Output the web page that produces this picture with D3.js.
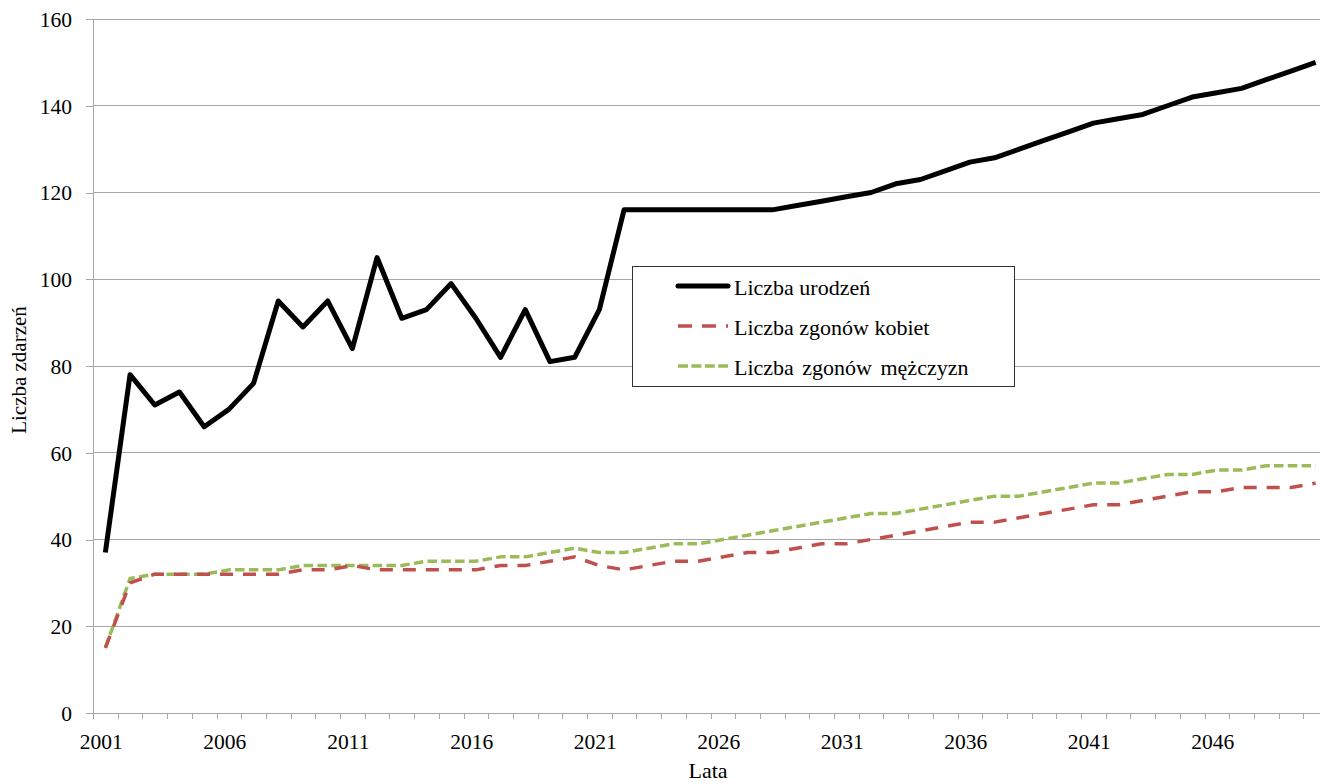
<!DOCTYPE html>
<html>
<head>
<meta charset="utf-8">
<script src="https://cdn.jsdelivr.net/npm/d3@7"></script>
<style>
  html, body { margin: 0; padding: 0; background: #fff; }
  svg { display: block; font-family: "Liberation Serif", "Times New Roman", serif; }
</style>
</head>
<body>
<svg id="chart" width="1320" height="784"></svg>
<script>
const years = d3.range(2001, 2051);
const births = [37,78,71,74,66,70,76,95,89,95,
                84,105,91,93,99,91,82,93,81,82,
                93,116,116,116,116,116,116,116,117,118,
                119,120,122,123,125,127,128,130,132,134,
                136,137,138,140,142,143,144,146,148,150];
const deathsWomen = [15,30,32,32,32,32,32,32,33,33,
                     34,33,33,33,33,33,34,34,35,36,
                     34,33,34,35,35,36,37,37,38,39,
                     39,40,41,42,43,44,44,45,46,47,
                     48,48,49,50,51,51,52,52,52,53];
const deathsMen = [15,31,32,32,32,33,33,33,34,34,
                   34,34,34,35,35,35,36,36,37,38,
                   37,37,38,39,39,40,41,42,43,44,
                   45,46,46,47,48,49,50,50,51,52,
                   53,53,54,55,55,56,56,57,57,57];
const yTicks = [0,20,40,60,80,100,120,140,160];
const xLabelYears = [2001,2006,2011,2016,2021,2026,2031,2036,2041,2046];
const seriesNames = ["Liczba urodzeń", "Liczba zgonów kobiet", "Liczba zgonów mężczyzn"];

(function () {
const svg = d3.select("#chart");
const mLeft = 93, mTop = 19, mBottom = 713;
const step = 24.7;
const mRight = mLeft + step * years.length;

const x = d3.scaleBand().domain(years).range([mLeft, mRight]);
const xb = d3.scaleLinear().domain([0, years.length]).range([mLeft, mRight]);
const y = d3.scaleLinear().domain([0, 160]).range([mBottom, mTop]);

const gridColor = "#a6a6a6";
const tickFont = 21.5;
const fontSize = 22;
const ff = "'Liberation Serif', 'Times New Roman', serif";

// gridlines
svg.append("g").selectAll("line").data(yTicks.filter(d => d > 0)).join("line")
  .attr("x1", mLeft).attr("x2", mRight)
  .attr("y1", d => y(d)).attr("y2", d => y(d))
  .attr("stroke", gridColor).attr("stroke-width", 1).attr("shape-rendering", "crispEdges");

// y axis
const yAxis = svg.append("g").attr("transform", `translate(${mLeft},0)`)
  .call(d3.axisLeft(y).tickValues(yTicks).tickSize(7).tickPadding(14));
yAxis.attr("font-family", ff);
yAxis.select(".domain").attr("stroke", gridColor).attr("shape-rendering", "crispEdges");
yAxis.selectAll(".tick line").attr("stroke", gridColor).attr("shape-rendering", "crispEdges");
yAxis.selectAll("text").attr("font-size", tickFont).attr("font-family", ff).attr("fill", "#000").attr("dy", "0.34em");

// x axis: boundary ticks
const xTickAxis = svg.append("g").attr("transform", `translate(0,${mBottom})`)
  .call(d3.axisBottom(xb).tickValues(d3.range(0, years.length + 1)).tickSize(6).tickFormat(""));
xTickAxis.select(".domain").attr("stroke", gridColor).attr("shape-rendering", "crispEdges");
xTickAxis.selectAll(".tick line").attr("stroke", gridColor).attr("shape-rendering", "crispEdges");

// x axis labels
const xLabelAxis = svg.append("g").attr("transform", `translate(-4,${mBottom})`)
  .call(d3.axisBottom(x).tickValues(xLabelYears).tickSize(0).tickFormat(d => String(d)));
xLabelAxis.attr("font-family", ff);
xLabelAxis.select(".domain").remove();
xLabelAxis.selectAll("text").attr("font-size", tickFont).attr("font-family", ff).attr("fill", "#000")
  .attr("y", 36).attr("dy", 0);

// axis titles
svg.append("text").attr("x", 708).attr("y", 778).attr("text-anchor", "middle")
  .attr("font-size", fontSize).attr("font-family", ff).text("Lata");
svg.append("text").attr("transform", "translate(26,370) rotate(-90)").attr("text-anchor", "middle")
  .attr("font-size", 21).attr("font-family", ff).text("Liczba zdarzeń");

// lines
const line = d3.line().x((d, i) => x(years[i]) + x.bandwidth() / 2).y(d => y(d));
const styles = [
  { data: births, color: "#000000", width: 5, dash: null, legDash: null },
  { data: deathsWomen, color: "#c0504d", width: 3.5, dash: "13 10", legDash: "14 10" },
  { data: deathsMen, color: "#9bbb59", width: 3.5, dash: "9.5 4.3", legDash: "10 3.4" }
];
[styles[2], styles[1], styles[0]].forEach(s => {
  svg.append("path").datum(s.data)
    .attr("d", line)
    .attr("fill", "none")
    .attr("stroke", s.color)
    .attr("stroke-width", s.width)
    .attr("stroke-linejoin", "round")
    .attr("stroke-dasharray", s.dash);
});

// legend
const lg = svg.append("g");
lg.append("rect").attr("x", 632.5).attr("y", 266.5).attr("width", 382).attr("height", 120)
  .attr("fill", "#fff").attr("stroke", "#333").attr("stroke-width", 1);
const rowY = [287, 327, 367];
styles.forEach((s, i) => {
  lg.append("line").attr("x1", 678).attr("x2", 728).attr("y1", rowY[i] - 1).attr("y2", rowY[i] - 1)
    .attr("stroke", s.color).attr("stroke-width", s.width)
    .attr("stroke-linecap", i === 0 ? "round" : "butt")
    .attr("stroke-dasharray", s.legDash);
  lg.append("text").attr("x", 734).attr("y", rowY[i]).attr("dy", "0.35em")
    .attr("font-size", fontSize).attr("font-family", ff).attr("fill", "#000")
    .attr("word-spacing", i === 2 ? 3 : 0).text(seriesNames[i]);
});
})();
</script>
</body>
</html>
